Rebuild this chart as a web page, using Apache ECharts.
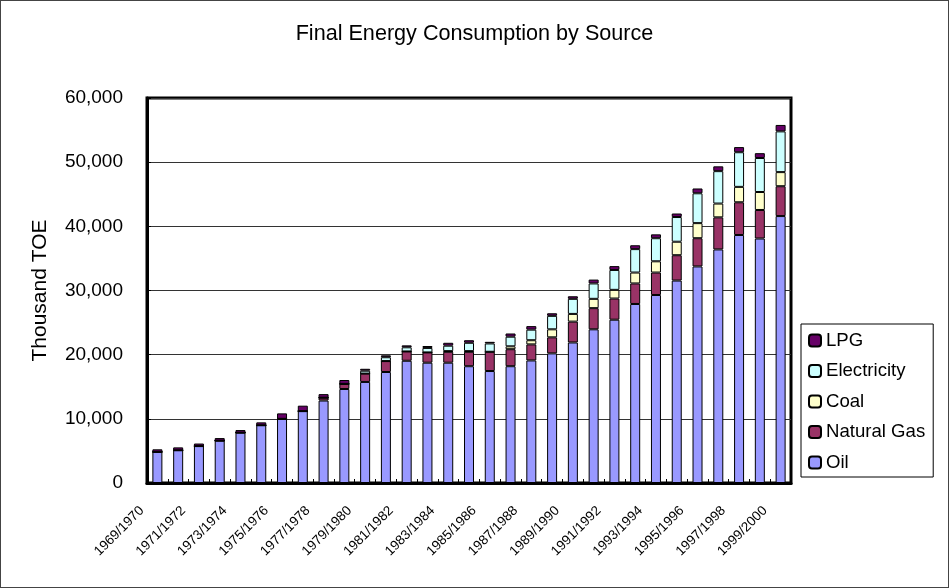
<!DOCTYPE html>
<html>
<head>
<meta charset="utf-8">
<script src="https://cdn.jsdelivr.net/npm/echarts@6/dist/echarts.min.js"></script>
<style>
  html, body { margin: 0; padding: 0; background: #fff; }
  #chart { width: 949px; height: 588px; box-sizing: border-box; border: 1px solid #444; }
</style>
</head>
<body>
<div id="chart"></div>
<script>
const years = [
  "1969/1970", "1970/1971", "1971/1972", "1972/1973", "1973/1974", "1974/1975",
  "1975/1976", "1976/1977", "1977/1978", "1978/1979", "1979/1980", "1980/1981",
  "1981/1982", "1982/1983", "1983/1984", "1984/1985", "1985/1986", "1986/1987",
  "1987/1988", "1988/1989", "1989/1990", "1990/1991", "1991/1992", "1992/1993",
  "1993/1994", "1994/1995", "1995/1996", "1996/1997", "1997/1998", "1998/1999",
  "1999/2000",
];

// thousand TOE
const oil = [
  4850, 5100, 5750, 6600, 7850, 9000, 10000, 11200, 12850, 14650, 15750,
  17300, 19050, 18750, 18750, 18200, 17450, 18200, 19100, 20200, 21900,
  23950, 25450, 27900, 29300, 31550, 33750, 36400, 38650, 38100, 41600,
];
const gas = [
  0, 0, 0, 0, 0, 0, 0, 0, 450, 800, 1300,
  1700, 1450, 1600, 1700, 2250, 3000, 2650, 2500, 2500, 3250,
  3300, 3300, 3200, 3500, 3950, 4400, 5000, 5100, 4450, 4650,
];
const coal = [
  0, 0, 0, 0, 0, 0, 0, 0, 0, 0, 0,
  0, 0, 0, 100, 100, 0, 450, 650, 1250, 1200,
  1450, 1350, 1700, 1750, 2100, 2350, 2150, 2400, 2800, 2200,
];
const electricity = [
  0, 0, 0, 0, 0, 0, 0, 0, 0, 0, 450,
  600, 650, 700, 850, 1300, 1300, 1500, 1650, 2100, 2350,
  2400, 3100, 3650, 3600, 3850, 4650, 5050, 5400, 5300, 6350,
];
const lpg = [
  400, 450, 400, 400, 400, 450, 850, 850, 550, 600, 300,
  300, 300, 300, 450, 400, 250, 500, 550, 400, 400,
  600, 600, 600, 600, 550, 750, 750, 800, 750, 1000,
];

const yTicks = [0, 10000, 20000, 30000, 40000, 50000, 60000];

const chart = echarts.init(document.getElementById("chart"));
const font = "Liberation Sans, Arial, sans-serif";

function bar(name, data, color) {
  return {
    name,
    type: "bar",
    stack: "total",
    barWidth: 10,
    data,
    itemStyle: { color, borderColor: "#000", borderWidth: 1 },
  };
}

chart.setOption({
  animation: false,
  textStyle: { fontFamily: font, color: "#000" },
  title: {
    text: "Final Energy Consumption by Source",
    left: "center",
    top: 17,
    textStyle: { fontFamily: font, fontSize: 21.6, fontWeight: "normal", color: "#000" },
  },
  grid: { left: 146, right: 157, top: 97, bottom: 104, show: true, borderColor: "#000", borderWidth: 3 },
  legend: {
    orient: "vertical",
    left: 800,
    top: 323,
    padding: [7, 8, 5, 7],
    itemGap: 11.5,
    itemWidth: 12,
    itemHeight: 12,
    borderColor: "#000",
    borderWidth: 1,
    backgroundColor: "#fff",
    textStyle: { fontFamily: font, fontSize: 18.6, lineHeight: 19, color: "#000" },
    data: ["LPG", "Electricity", "Coal", "Natural Gas", "Oil"],
  },
  xAxis: {
    type: "category",
    data: years,
    axisLine: { lineStyle: { color: "#000", width: 3 } },
    axisTick: { show: true, inside: true, interval: 0, length: 4, lineStyle: { color: "#000" } },
    axisLabel: {
      interval: 1,
      rotate: 45,
      fontSize: 13.5,
      color: "#000",
      margin: 10,
      padding: [0, 22, 0, 0],
      fontFamily: font,
    },
  },
  yAxis: {
    type: "value",
    min: yTicks[0],
    max: yTicks[yTicks.length - 1],
    interval: yTicks[1] - yTicks[0],
    name: "Thousand TOE",
    nameLocation: "middle",
    nameGap: 96,
    nameTextStyle: { fontSize: 21, color: "#000", fontFamily: font },
    axisLine: { show: true, lineStyle: { color: "#000", width: 3 } },
    axisTick: { show: true, inside: true, length: 4, lineStyle: { color: "#000" } },
    axisLabel: {
      fontSize: 19,
      color: "#000",
      margin: 24,
      fontFamily: font,
      formatter: (v) => v.toLocaleString("en-US"),
    },
    splitLine: { lineStyle: { color: "#333", width: 1 } },
  },
  series: [
    bar("Oil", oil, "#9999FF"),
    bar("Natural Gas", gas, "#993366"),
    bar("Coal", coal, "#FFFFCC"),
    bar("Electricity", electricity, "#CCFFFF"),
    bar("LPG", lpg, "#660066"),
  ],
});
</script>
</body>
</html>
